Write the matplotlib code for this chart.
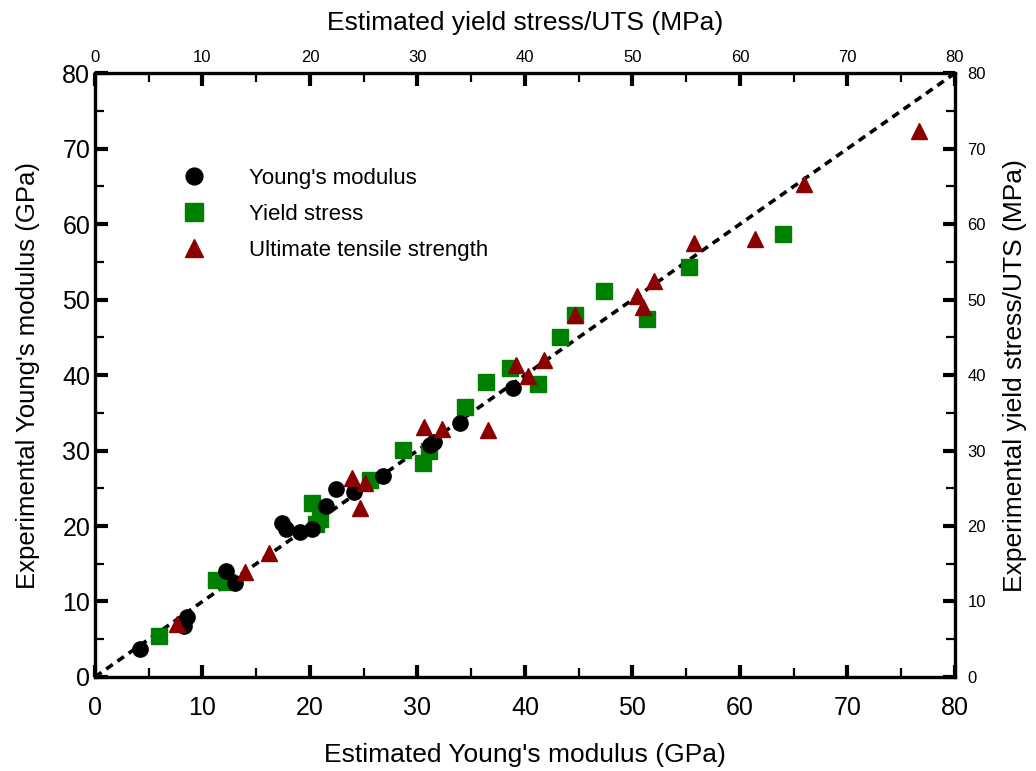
import matplotlib
matplotlib.use("Agg")
import matplotlib.pyplot as plt
from matplotlib.ticker import MultipleLocator

plt.rcParams['font.family'] = ['Liberation Sans Narrow', 'Liberation Sans', 'DejaVu Sans']

# Young's modulus (GPa): estimated vs experimental
ym_est = [4.2, 8.3, 8.6, 12.2, 13.0, 17.4, 17.8, 19.1, 20.2, 21.5, 22.4, 24.1,
          26.8, 31.2, 31.5, 33.95, 38.9]
ym_exp = [3.7, 6.8, 7.9, 14.1, 12.4, 20.4, 19.6, 19.2, 19.6, 22.7, 24.9, 24.5,
          26.6, 30.7, 31.1, 33.6, 38.3]

# Yield stress (MPa)
ys_est = [5.95, 11.3, 12.3, 20.2, 20.6, 20.9, 25.6, 28.7, 30.5, 31.1, 34.4,
          36.4, 38.6, 41.2, 43.3, 44.7, 47.35, 51.4, 55.3, 64.0]
ys_exp = [5.4, 12.9, 12.6, 23.0, 20.3, 20.9, 26.1, 30.1, 28.4, 29.9, 35.8,
          39.1, 41.0, 38.8, 45.0, 48.0, 51.2, 47.4, 54.3, 58.7]

# Ultimate tensile strength (MPa)
uts_est = [7.6, 13.95, 16.2, 23.9, 24.65, 25.1, 30.6, 32.3, 36.6, 39.2, 40.3,
           41.8, 44.7, 50.4, 51.0, 52.0, 55.7, 61.4, 66.0, 76.7]
uts_exp = [7.05, 13.9, 16.4, 26.3, 22.4, 25.7, 33.1, 32.8, 32.7, 41.3, 39.9,
           42.0, 48.0, 50.5, 49.0, 52.45, 57.5, 58.1, 65.3, 72.3]

fig = plt.figure(figsize=(10.36, 7.71), dpi=100)
ax = fig.add_axes([0.0917, 0.122, 0.830, 0.783])

ax.plot([0, 80], [0, 80], color='black', lw=2.6, ls=(0, (2.2, 1.6)), zorder=1)

ax.plot(ym_est, ym_exp, 'o', color='black', ms=11, ls='none', zorder=3,
        label="Young's modulus")
ax.plot(ys_est, ys_exp, 's', color='#008000', ms=11.5, ls='none', zorder=2,
        label='Yield stress')
ax.plot(uts_est, uts_exp, '^', color='#8b0000', ms=11.5, ls='none', zorder=4,
        label='Ultimate tensile strength')

ax.set_xlim(0, 80)
ax.set_ylim(0, 80)
for a in (ax.xaxis, ax.yaxis):
    a.set_major_locator(MultipleLocator(10))
    a.set_minor_locator(MultipleLocator(5))

ax.tick_params(which='both', direction='in', top=True, right=True,
               labeltop=False, labelright=False, labelsize=18)
ax.tick_params(axis='x', which='major', pad=14)
ax.tick_params(which='major', length=9, width=3)
ax.tick_params(which='minor', length=6.5, width=1.6)
for s in ax.spines.values():
    s.set_linewidth(2.4)

ax.set_xlabel("Estimated Young's modulus (GPa)", fontsize=19, labelpad=16)
ax.set_ylabel("Experimental Young's modulus (GPa)", fontsize=18.5, labelpad=16)

# secondary scales for the stress values
top = ax.secondary_xaxis('top')
top.set_xticks(range(0, 81, 10))
top.tick_params(direction='in', length=0, labelsize=12, pad=6)
top.set_xlabel("Estimated yield stress/UTS (MPa)", fontsize=19, labelpad=14)

right = ax.secondary_yaxis('right')
right.set_yticks(range(0, 81, 10))
right.tick_params(direction='in', length=0, labelsize=12, pad=9)
right.set_ylabel("Experimental yield stress/UTS (MPa)", fontsize=19, labelpad=12)

ax.legend(loc='upper left', bbox_to_anchor=(0.0895, 0.843), frameon=False,
          prop={'family': 'Liberation Sans', 'size': 16}, handletextpad=1.45,
          labelspacing=0.68, borderpad=0, borderaxespad=0, markerscale=1.1)

fig.savefig('out.png', dpi=100)
